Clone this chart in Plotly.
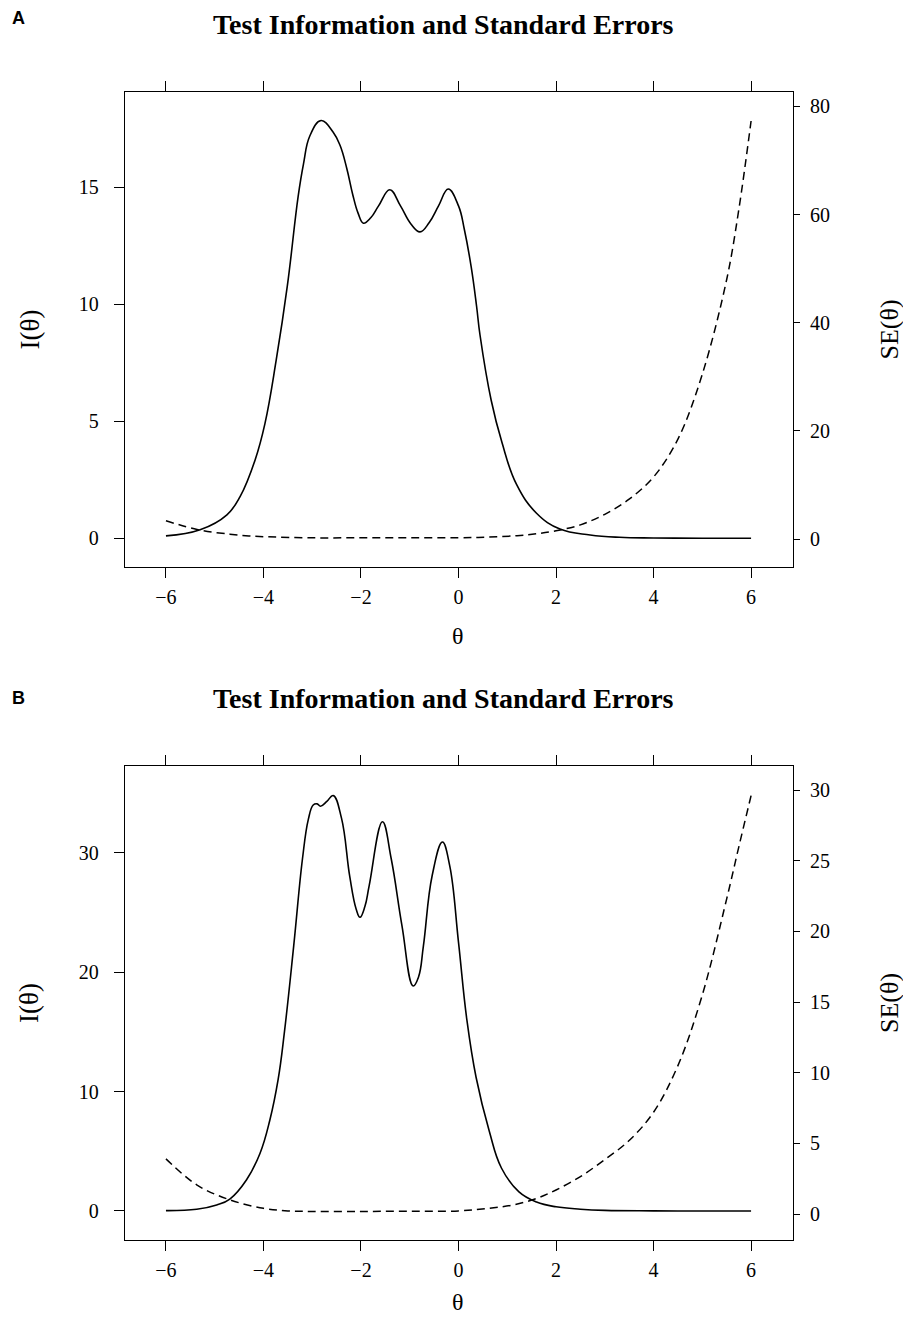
import plotly.graph_objects as go

# ---------------- data ----------------
# Panel A: test information I(theta)
theta_info_a = [-6.0, -5.3, -4.75, -4.48, -4.17, -3.97, -3.74, -3.51, -3.29, -3.18, -3.05, -2.82,
                -2.57, -2.43, -2.29, -2.17, -2.06, -1.95, -1.8, -1.64, -1.41, -1.19, -0.98, -0.79,
                -0.6, -0.41, -0.21, 0.0, 0.12, 0.26, 0.37, 0.44, 0.67, 0.89, 1.19, 1.6, 2.08, 2.7,
                3.3, 4.0, 5.0, 6.0]
info_a = [0.10, 0.36, 1.0, 1.78, 3.36, 4.9, 7.6, 10.8, 14.6, 16.0, 17.2, 17.86,
          17.36, 16.8, 15.8, 14.7, 13.9, 13.47, 13.7, 14.21, 14.9, 14.21, 13.45, 13.1,
          13.5, 14.21, 14.93, 14.21, 13.2, 11.6, 9.93, 8.7, 5.9, 4.1, 2.3, 1.07, 0.39, 0.14,
          0.04, 0.01, 0.0, 0.0]

# Panel A: standard error SE(theta)
theta_se_a = [-6.0, -5.3, -4.69, -4.3, -4.0, -3.0, -2.0, -1.0, 0.0, 0.6, 1.2, 1.6, 2.0, 2.5,
              3.0, 3.5, 4.0, 4.5, 5.0, 5.5, 5.75, 6.0]
se_a = [3.4, 1.67, 0.93, 0.6, 0.47, 0.25, 0.27, 0.27, 0.27, 0.38, 0.65, 1.0, 1.55, 2.65,
        4.6, 7.4, 11.5, 18.5, 30.5, 48.0, 61.0, 77.3]

# Panel B: test information I(theta)
theta_info_b = [-6.0, -5.37, -4.96, -4.69, -4.35, -4.07, -3.87, -3.70, -3.57, -3.38, -3.20, -3.08,
                -2.98, -2.90, -2.83, -2.70, -2.57, -2.40, -2.23, -2.10, -2.02, -1.92, -1.83, -1.56,
                -1.38, -1.16, -0.93, -0.82, -0.72, -0.54, -0.33, -0.18, 0.0, 0.17, 0.36, 0.63, 0.88,
                1.24, 1.6, 2.0, 2.5, 3.0, 4.0, 5.0, 6.0]
info_b = [0.03, 0.14, 0.5, 1.0, 2.6, 4.84, 7.6, 11.0, 15.0, 22.2, 29.5, 32.8,
          34.0, 34.1, 33.9, 34.3, 34.8, 32.9, 28.0, 25.3, 24.6, 25.5, 27.3, 32.6,
          29.5, 23.9, 18.85, 19.6, 22.2, 28.1, 30.9, 28.9, 22.5, 16.05, 11.2, 6.7, 3.6,
          1.6, 0.75, 0.35, 0.15, 0.05, 0.01, 0.0, 0.0]

# Panel B: standard error SE(theta)
theta_se_b = [-6.0, -5.37, -4.69, -4.0, -3.5, -3.0, -2.0, -1.0, 0.0, 0.62, 1.12, 1.6, 2.0,
              2.5, 3.0, 3.5, 4.0, 4.5, 5.0, 5.5, 5.75, 6.0]
se_b = [3.9, 2.06, 1.0, 0.4, 0.22, 0.18, 0.18, 0.2, 0.22, 0.4, 0.64, 1.1, 1.7,
        2.65, 3.85, 5.2, 7.2, 10.5, 15.5, 22.3, 26.0, 29.6]

x_ticks = [-6, -4, -2, 0, 2, 4, 6]
info_ticks_a = [0, 5, 10, 15]
se_ticks_a = [0, 20, 40, 60, 80]
info_ticks_b = [0, 10, 20, 30]
se_ticks_b = [0, 5, 10, 15, 20, 25, 30]

title_text = "Test Information and Standard Errors"
panel_labels = ["A", "B"]

# ---------------- layout helpers ----------------
W, H = 903, 1318
SERIF = "Liberation Serif, Times New Roman, serif"


def px_x(p):
    return p / W


def px_y(p):
    return 1 - p / H


x_dom = [px_x(125), px_x(793)]
y_dom_a = [px_y(567), px_y(92)]
y_dom_b = [px_y(1240), px_y(766)]

fig = go.Figure()

solid = dict(color="black", width=1.6, shape="spline", smoothing=1.2)
dashed = dict(color="black", width=1.5, dash="8px,5px", shape="spline", smoothing=1.0)

fig.add_trace(go.Scatter(x=theta_info_a, y=info_a, mode="lines", line=solid,
                         xaxis="x", yaxis="y", showlegend=False, hoverinfo="skip"))
fig.add_trace(go.Scatter(x=theta_se_a, y=se_a, mode="lines", line=dashed,
                         xaxis="x", yaxis="y2", showlegend=False, hoverinfo="skip"))
fig.add_trace(go.Scatter(x=theta_info_b, y=info_b, mode="lines", line=solid,
                         xaxis="x2", yaxis="y3", showlegend=False, hoverinfo="skip"))
fig.add_trace(go.Scatter(x=theta_se_b, y=se_b, mode="lines", line=dashed,
                         xaxis="x2", yaxis="y4", showlegend=False, hoverinfo="skip"))

tickfont = dict(family=SERIF, size=20, color="black")

xcommon = dict(range=[-6.84, 6.86], domain=x_dom, tickvals=x_ticks, ticks="outside", ticklen=10,
               tickwidth=1.2, tickcolor="black", showline=True, linecolor="black", linewidth=1.3,
               mirror="ticks", showgrid=False, zeroline=False, tickfont=tickfont,
               ticklabelstandoff=2, fixedrange=True)
yleft = dict(ticks="outside", ticklen=10, tickwidth=1.2, tickcolor="black", showline=True,
             linecolor="black", linewidth=1.3, mirror=True, showgrid=False, zeroline=False,
             tickfont=tickfont, ticklabelstandoff=11, fixedrange=True)
yright = dict(ticks="outside", ticklen=6, tickwidth=1.2, tickcolor="black", showline=False,
              showgrid=False, zeroline=False, side="right", tickfont=tickfont,
              ticklabelstandoff=6, fixedrange=True)

fig.update_layout(
    width=W, height=H,
    margin=dict(l=0, r=0, t=0, b=0),
    paper_bgcolor="white", plot_bgcolor="white",
    xaxis=dict(anchor="y", **xcommon),
    yaxis=dict(domain=y_dom_a, range=[-1.23, 19.08], tickvals=info_ticks_a, anchor="x", **yleft),
    yaxis2=dict(range=[-5.14, 82.66], tickvals=se_ticks_a, overlaying="y", anchor="x", **yright),
    xaxis2=dict(anchor="y3", **xcommon),
    yaxis3=dict(domain=y_dom_b, range=[-2.43, 37.27], tickvals=info_ticks_b, anchor="x2", **yleft),
    yaxis4=dict(range=[-1.84, 31.7], tickvals=se_ticks_b, overlaying="y3", anchor="x2", **yright),
)

annots = []
for i, (top_title, label_y, box_mid, xlab_y) in enumerate([(25, 18, 329.5, 636), (698, 698, 1003, 1302)]):
    annots.append(dict(text="<b>" + title_text + "</b>", x=px_x(443), y=px_y(top_title), xref="paper", yref="paper",
                       xanchor="center", yanchor="middle", showarrow=False,
                       font=dict(family=SERIF, size=28, color="black")))
    annots.append(dict(text="<b>" + panel_labels[i] + "</b>", x=px_x(18), y=px_y(label_y), xref="paper", yref="paper",
                       xanchor="center", yanchor="middle", showarrow=False,
                       font=dict(family="Liberation Sans, Arial, sans-serif", size=18, color="black")))
    annots.append(dict(text="I(θ)", x=px_x(29), y=px_y(box_mid), xref="paper", yref="paper", textangle=-90,
                       xanchor="center", yanchor="middle", showarrow=False,
                       font=dict(family=SERIF, size=27, color="black")))
    annots.append(dict(text="SE(θ)", x=px_x(889), y=px_y(box_mid), xref="paper", yref="paper", textangle=-90,
                       xanchor="center", yanchor="middle", showarrow=False,
                       font=dict(family=SERIF, size=26, color="black")))
    annots.append(dict(text="θ", x=px_x(458), y=px_y(xlab_y), xref="paper", yref="paper",
                       xanchor="center", yanchor="middle", showarrow=False,
                       font=dict(family=SERIF, size=24, color="black")))
fig.update_layout(annotations=annots)

# remove the default page margin so the figure fills the 903x1318 window exactly
page_fix = "document.body.style.margin='0';document.body.style.overflow='hidden';"
fig.write_html("out.html", post_script=page_fix, config={"displayModeBar": False})
